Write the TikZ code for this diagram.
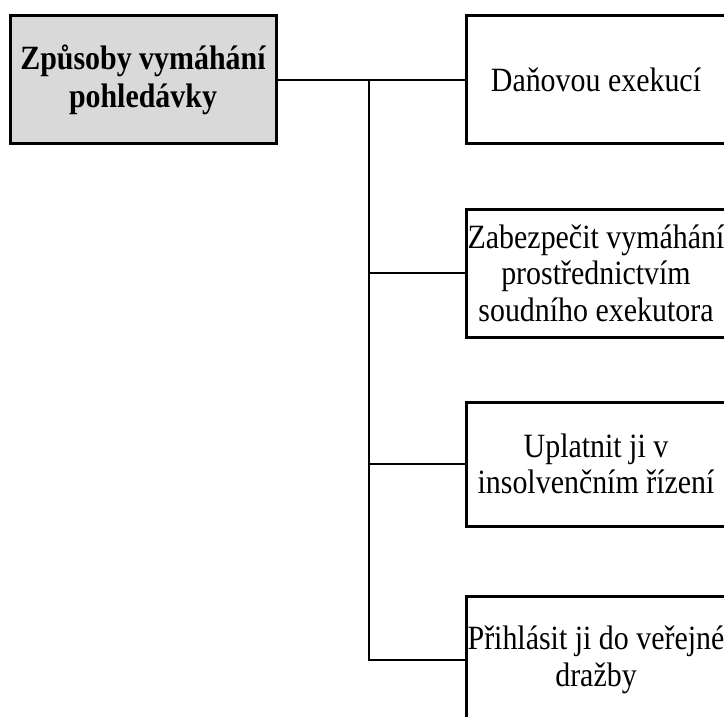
\documentclass[tikz,border=0pt]{standalone}
\usepackage{fontspec}
\setmainfont{Liberation Serif}[FakeStretch=0.88]
\begin{document}
\begin{tikzpicture}[x=1pt,y=-1pt,
    box/.style={draw,line width=3pt,minimum width=260pt,minimum height=128pt,
      inner sep=0pt,align=center,font=\fontsize{34}{36.5}\selectfont},
    hlavni/.style={box,fill=gray!30,minimum width=266pt,
      font=\bfseries\fontsize{34}{38}\selectfont}]
  \useasboundingbox (0,0) rectangle (724,717);
  \draw
    (143,80) node[hlavni] (zpusoby){Způsoby vymáhání\\pohledávky}
    (596,80) node[box] (dan){Daňovou exekucí}
    (596,273) node[box] (exekutor){Zabezpečit vymáhání\\prostřednictvím\\soudního exekutora}
    (596,464) node[box,minimum height=124pt] (insolvence){Uplatnit ji v\\insolvenčním řízení}
    (596,660) node[box] (drazba){Přihlásit ji do veřejné\\dražby};
  \coordinate (kmen) at (369,80);
  \begin{scope}[line width=2pt]
    \draw (zpusoby.east) to (dan.west);
    \draw (kmen) |- (exekutor.west);
    \draw (kmen) |- (insolvence.west);
    \draw (kmen) |- (drazba.west);
  \end{scope}
\end{tikzpicture}
\end{document}
